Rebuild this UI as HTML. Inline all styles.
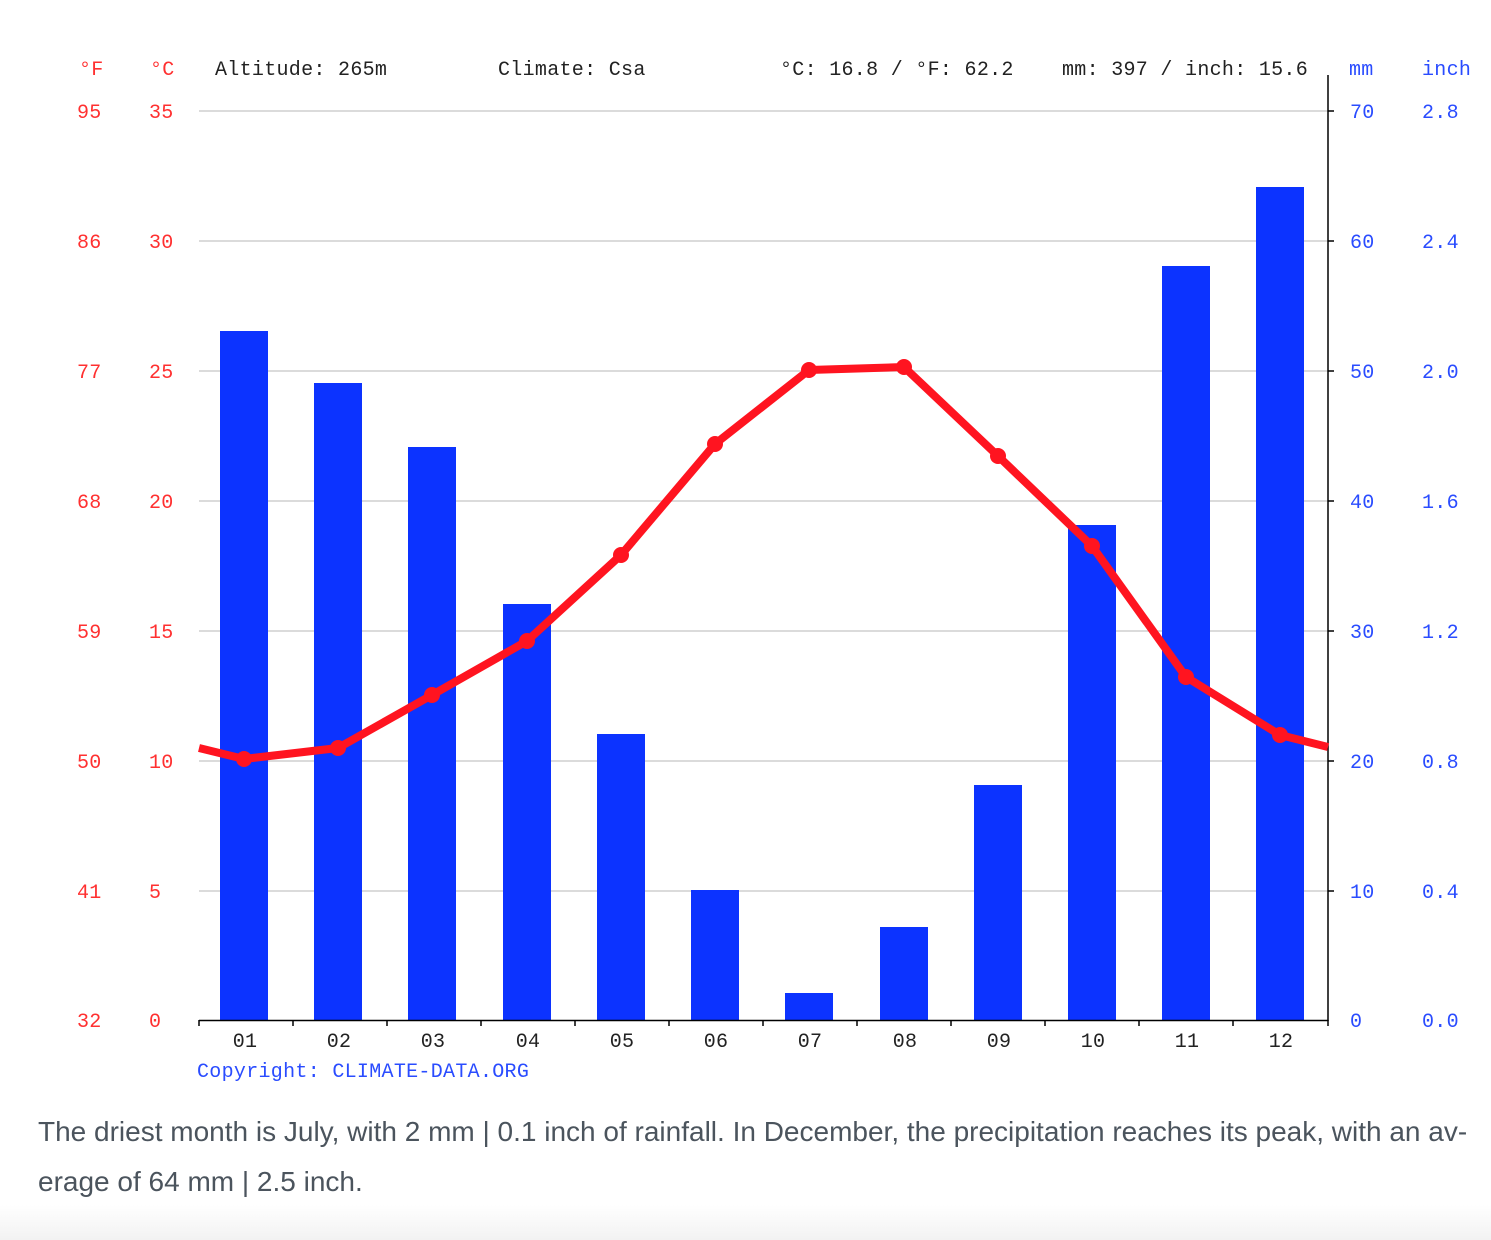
<!DOCTYPE html>
<html><head><meta charset="utf-8"><style>
html,body{margin:0;padding:0;background:#fff;width:1491px;height:1240px;overflow:hidden}
.p{position:absolute;left:38px;top:1107px;width:1450px;font-family:"Liberation Sans",Arial,sans-serif;font-size:28px;line-height:50px;color:#4b545d;white-space:nowrap}
.bot{position:absolute;left:0;top:1205px;width:1491px;height:35px;background:linear-gradient(#fff,#f2f2f2)}
</style></head><body>
<svg width="1491" height="1240" style="position:absolute;left:0;top:0" font-family="'Liberation Mono','DejaVu Sans Mono',monospace" font-size="20" letter-spacing="0.3">
<g stroke="#cfcfcf" stroke-width="1.5">
<line x1="199" x2="1328" y1="111" y2="111"/><line x1="199" x2="1328" y1="241" y2="241"/>
<line x1="199" x2="1328" y1="371" y2="371"/><line x1="199" x2="1328" y1="501" y2="501"/>
<line x1="199" x2="1328" y1="631" y2="631"/><line x1="199" x2="1328" y1="761" y2="761"/>
<line x1="199" x2="1328" y1="891" y2="891"/>
</g>
<g fill="#0c33ff">
<rect x="220" y="331" width="48" height="689"/>
<rect x="314" y="383" width="48" height="637"/>
<rect x="408" y="447" width="48" height="573"/>
<rect x="503" y="604" width="48" height="416"/>
<rect x="597" y="734" width="48" height="286"/>
<rect x="691" y="890" width="48" height="130"/>
<rect x="785" y="993" width="48" height="27"/>
<rect x="880" y="927" width="48" height="93"/>
<rect x="974" y="785" width="48" height="235"/>
<rect x="1068" y="525" width="48" height="495"/>
<rect x="1162" y="266" width="48" height="754"/>
<rect x="1256" y="187" width="48" height="833"/>
</g>
<g stroke="#000" stroke-width="1.5">
<line x1="199" x2="1328" y1="1020.5" y2="1020.5"/>
<line x1="1328" x2="1328" y1="75" y2="1021"/>
<line x1="199" x2="199" y1="1020" y2="1026"/><line x1="293" x2="293" y1="1020" y2="1026"/>
<line x1="387" x2="387" y1="1020" y2="1026"/><line x1="481" x2="481" y1="1020" y2="1026"/>
<line x1="575" x2="575" y1="1020" y2="1026"/><line x1="669" x2="669" y1="1020" y2="1026"/>
<line x1="763" x2="763" y1="1020" y2="1026"/><line x1="857" x2="857" y1="1020" y2="1026"/>
<line x1="951" x2="951" y1="1020" y2="1026"/><line x1="1045" x2="1045" y1="1020" y2="1026"/>
<line x1="1139" x2="1139" y1="1020" y2="1026"/><line x1="1233" x2="1233" y1="1020" y2="1026"/>
<line x1="1328" x2="1328" y1="1020" y2="1026"/>
<line x1="1328" x2="1334" y1="111" y2="111"/><line x1="1328" x2="1334" y1="241" y2="241"/>
<line x1="1328" x2="1334" y1="371" y2="371"/><line x1="1328" x2="1334" y1="501" y2="501"/>
<line x1="1328" x2="1334" y1="631" y2="631"/><line x1="1328" x2="1334" y1="761" y2="761"/>
<line x1="1328" x2="1334" y1="891" y2="891"/>
</g>
<polyline fill="none" stroke="#ff1420" stroke-width="8" stroke-linejoin="round" points="199,748 244,759 338,748 432,695 527,641 621,555 715,444 809,370 904,367 998,456 1092,546 1186,677 1280,735 1328,747"/>
<g fill="#ff1420">
<circle cx="244" cy="759" r="8"/><circle cx="338" cy="748" r="8"/><circle cx="432" cy="695" r="8"/>
<circle cx="527" cy="641" r="8"/><circle cx="621" cy="555" r="8"/><circle cx="715" cy="444" r="8"/>
<circle cx="809" cy="370" r="8"/><circle cx="904" cy="367" r="8"/><circle cx="998" cy="456" r="8"/>
<circle cx="1092" cy="546" r="8"/><circle cx="1186" cy="677" r="8"/><circle cx="1280" cy="735" r="8"/>
</g>
<g fill="#ff3030">
<text x="79" y="75">°F</text><text x="150" y="75">°C</text>
<text x="77" y="118">95</text><text x="149" y="118">35</text>
<text x="77" y="248">86</text><text x="149" y="248">30</text>
<text x="77" y="378">77</text><text x="149" y="378">25</text>
<text x="77" y="508">68</text><text x="149" y="508">20</text>
<text x="77" y="638">59</text><text x="149" y="638">15</text>
<text x="77" y="768">50</text><text x="149" y="768">10</text>
<text x="77" y="898">41</text><text x="149" y="898">5</text>
<text x="77" y="1027">32</text><text x="149" y="1027">0</text>
</g>
<g fill="#222">
<text x="215" y="75">Altitude: 265m</text>
<text x="498" y="75">Climate: Csa</text>
<text x="780" y="75">°C: 16.8 / °F: 62.2</text>
<text x="1062" y="75">mm: 397 / inch: 15.6</text>
<g text-anchor="middle">
<text x="245" y="1047">01</text><text x="339" y="1047">02</text><text x="433" y="1047">03</text>
<text x="528" y="1047">04</text><text x="622" y="1047">05</text><text x="716" y="1047">06</text>
<text x="810" y="1047">07</text><text x="905" y="1047">08</text><text x="999" y="1047">09</text>
<text x="1093" y="1047">10</text><text x="1187" y="1047">11</text><text x="1281" y="1047">12</text>
</g></g>
<g fill="#2a4cff">
<text x="1349" y="75">mm</text><text x="1422" y="75">inch</text>
<text x="1350" y="118">70</text><text x="1422" y="118">2.8</text>
<text x="1350" y="248">60</text><text x="1422" y="248">2.4</text>
<text x="1350" y="378">50</text><text x="1422" y="378">2.0</text>
<text x="1350" y="508">40</text><text x="1422" y="508">1.6</text>
<text x="1350" y="638">30</text><text x="1422" y="638">1.2</text>
<text x="1350" y="768">20</text><text x="1422" y="768">0.8</text>
<text x="1350" y="898">10</text><text x="1422" y="898">0.4</text>
<text x="1350" y="1027">0</text><text x="1422" y="1027">0.0</text>
<text x="197" y="1077">Copyright: CLIMATE-DATA.ORG</text>
</g>
</svg>
<div class="p">The driest month is July, with 2 mm | 0.1 inch of rainfall. In December, the precipitation reaches its peak, with an av-<br>erage of 64 mm | 2.5 inch.</div>
<div class="bot"></div>
</body></html>
